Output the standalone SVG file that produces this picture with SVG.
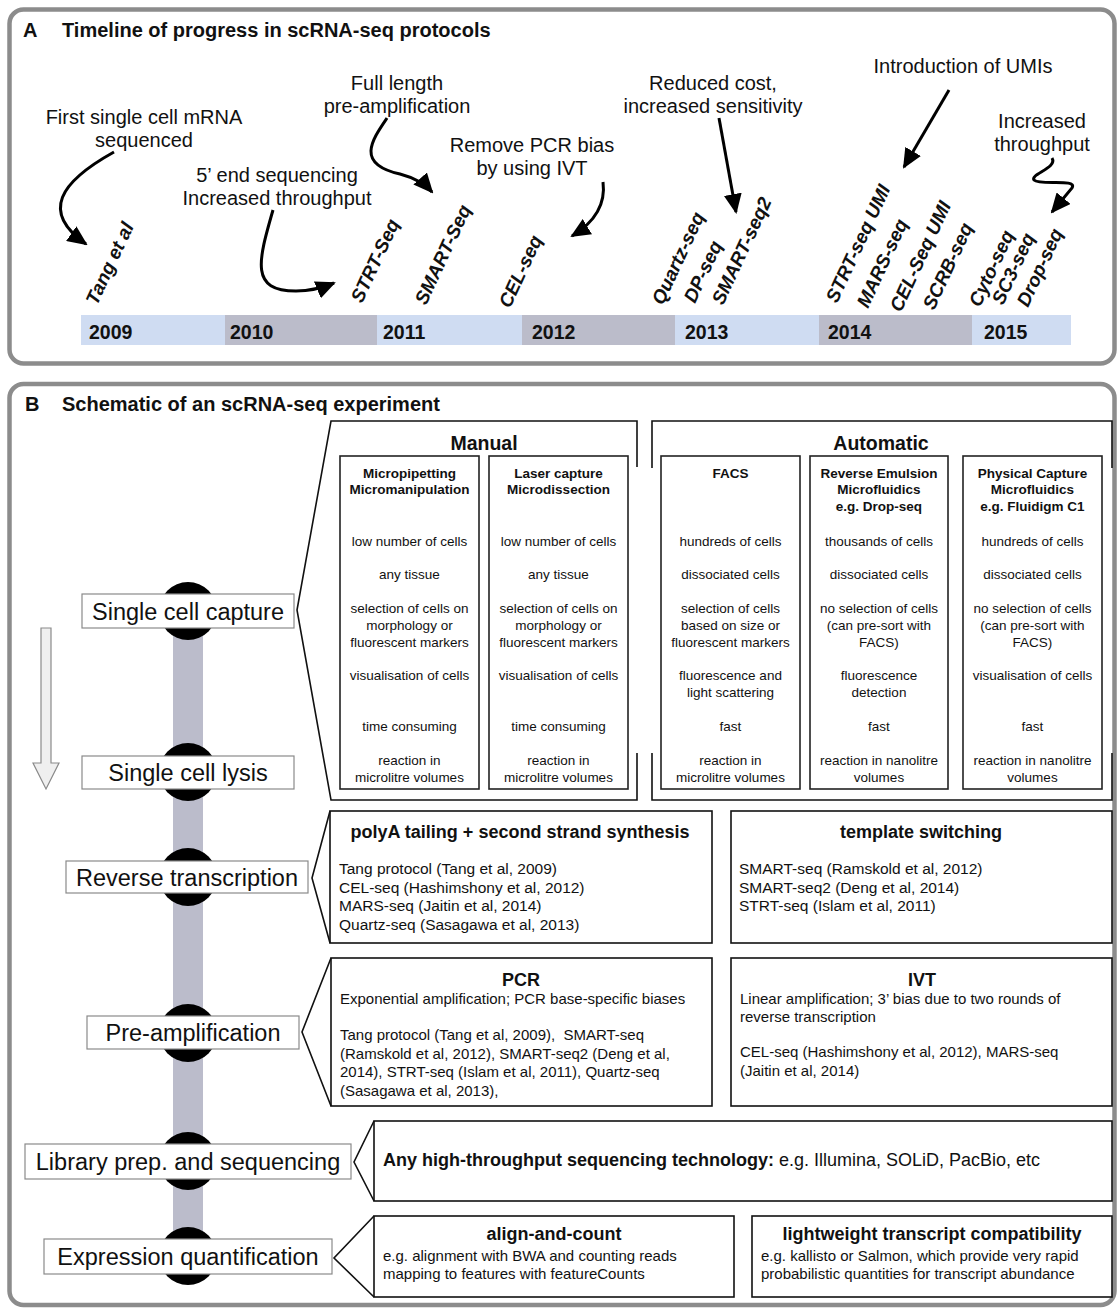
<svg xmlns="http://www.w3.org/2000/svg" width="1119" height="1310" viewBox="0 0 1119 1310">
  <style>
    text { font-family: "Liberation Sans", Arial, Helvetica, sans-serif; fill: #111; }
    .panel { fill: #fff; stroke: #8c8c8c; stroke-width: 4.5; }
    .ptitle { font-size: 20px; font-weight: bold; }
    .note { font-size: 20px; text-anchor: middle; }
    .proto { font-size: 19px; font-weight: bold; font-style: italic; }
    .year { font-size: 19.5px; font-weight: bold; }
    .arrow { fill: none; stroke: #000; stroke-width: 3; marker-end: url(#head); }
    .step rect { fill: #fff; stroke: #8a8a8a; stroke-width: 1.2; }
    .step text { font-size: 23.5px; text-anchor: middle; }
    .bracket { fill: none; stroke: #111; stroke-width: 1.6; }
    .col rect { fill: #fff; stroke: #222; stroke-width: 1.6; }
    .col text { font-size: 13.5px; text-anchor: middle; }
    .col .hd { font-weight: bold; }
    .group { font-size: 19.5px; font-weight: bold; text-anchor: middle; }
    .box rect { fill: #fff; stroke: #111; stroke-width: 1.6; }
    .box path { fill: none; stroke: #111; stroke-width: 1.6; }
    .bt { font-size: 18px; font-weight: bold; text-anchor: middle; }
    .rt { font-size: 15.5px; }
    .bd { font-size: 15px; white-space: pre; }
  </style>
  <defs>
    <marker id="head" markerUnits="userSpaceOnUse" viewBox="0 0 20 18" markerWidth="20" markerHeight="18" refX="18" refY="9" orient="auto">
      <path d="M0,0 L20,9 L0,18 z" fill="#000"/>
    </marker>
  </defs>

  <rect width="1119" height="1310" fill="#fff"/>

  <!-- Panel A: timeline -->
  <g id="panel-a">
    <rect class="panel" x="9.5" y="9.5" width="1105" height="354" rx="14"/>
    <text class="ptitle" x="23" y="37">A</text>
    <text class="ptitle" x="62" y="37">Timeline of progress in scRNA-seq protocols</text>

    <g id="timeline-bar">
      <rect x="81" y="315" width="144" height="30" fill="#cfdcf2"/>
      <rect x="225" y="315" width="152" height="30" fill="#bbbcca"/>
      <rect x="377" y="315" width="145" height="30" fill="#cfdcf2"/>
      <rect x="522" y="315" width="153" height="30" fill="#bbbcca"/>
      <rect x="675" y="315" width="144" height="30" fill="#cfdcf2"/>
      <rect x="819" y="315" width="153" height="30" fill="#bbbcca"/>
      <rect x="972" y="315" width="99" height="30" fill="#cfdcf2"/>
      <text class="year" x="89" y="339">2009</text>
      <text class="year" x="230" y="339">2010</text>
      <text class="year" x="383" y="339">2011</text>
      <text class="year" x="532" y="339">2012</text>
      <text class="year" x="685" y="339">2013</text>
      <text class="year" x="828" y="339">2014</text>
      <text class="year" x="984" y="339">2015</text>
    </g>

    <g id="protocols">
      <text class="proto" transform="translate(97,306) rotate(-65)">Tang et al</text>
      <text class="proto" transform="translate(362,304) rotate(-65)">STRT-Seq</text>
      <text class="proto" transform="translate(426,306) rotate(-65)">SMART-Seq</text>
      <text class="proto" transform="translate(510,309) rotate(-65)">CEL-seq</text>
      <text class="proto" transform="translate(663,306) rotate(-65)">Quartz-seq</text>
      <text class="proto" transform="translate(695,304) rotate(-65)">DP-seq</text>
      <text class="proto" transform="translate(723,306) rotate(-65)">SMART-seq2</text>
      <text class="proto" transform="translate(837,304) rotate(-65)">STRT-seq UMI</text>
      <text class="proto" transform="translate(868,309) rotate(-65)">MARS-seq</text>
      <text class="proto" transform="translate(901,313) rotate(-65)">CEL-Seq UMI</text>
      <text class="proto" transform="translate(934,311) rotate(-65)">SCRB-seq</text>
      <text class="proto" transform="translate(980,308) rotate(-65)">Cyto-seq</text>
      <text class="proto" transform="translate(1003,306) rotate(-65)">SC3-seq</text>
      <text class="proto" transform="translate(1028,308) rotate(-65)">Drop-seq</text>
    </g>

    <g id="milestones">
      <text class="note" x="144" y="124">First single cell mRNA</text>
      <text class="note" x="144" y="147">sequenced</text>
      <text class="note" x="277" y="182">5’ end sequencing</text>
      <text class="note" x="277" y="205">Increased throughput</text>
      <text class="note" x="397" y="90">Full length</text>
      <text class="note" x="397" y="113">pre-amplification</text>
      <text class="note" x="532" y="152">Remove PCR bias</text>
      <text class="note" x="532" y="175">by using IVT</text>
      <text class="note" x="713" y="90">Reduced cost,</text>
      <text class="note" x="713" y="113">increased sensitivity</text>
      <text class="note" x="963" y="73">Introduction of UMIs</text>
      <text class="note" x="1042" y="128">Increased</text>
      <text class="note" x="1042" y="151">throughput</text>
    </g>

    <g id="milestone-arrows">
      <path class="arrow" d="M114,152 C60,182 40,212 86,244"/>
      <path class="arrow" d="M273,210 C258,262 250,291 296,291 C310,291 322,288 334,283"/>
      <path class="arrow" d="M387,118 C372,140 355,164 400,174 C415,178 425,184 432,192"/>
      <path class="arrow" d="M603,182 C606,205 595,222 572,236"/>
      <path class="arrow" d="M719,118 L736,212"/>
      <path class="arrow" d="M949,90 L904,167"/>
      <path class="arrow" d="M1052,158 C1058,168 1030,174 1034,180 C1040,186 1078,178 1072,188 L1052,212"/>
    </g>
  </g>

  <!-- Panel B: experiment schematic -->
  <g id="panel-b">
    <rect class="panel" x="9.5" y="384" width="1105" height="921" rx="14"/>
    <text class="ptitle" x="25" y="411">B</text>
    <text class="ptitle" x="62" y="411">Schematic of an scRNA-seq experiment</text>
  </g>

  <!-- workflow direction arrow -->
  <path id="flow-arrow" d="M41,628 H51 V763 H59 L46,789 L33,763 H41 Z" fill="#efefef" stroke="#8a8a8a" stroke-width="1.2"/>

  <!-- connectors: spine joining the steps -->
  <g id="connectors">
    <rect x="173" y="611" width="30" height="645" fill="#bbbccb"/>
    <circle cx="188" cy="611" r="29" fill="#000"/>
    <circle cx="188" cy="772" r="29" fill="#000"/>
    <circle cx="188" cy="877" r="29" fill="#000"/>
    <circle cx="188" cy="1033" r="29" fill="#000"/>
    <circle cx="188" cy="1161" r="29" fill="#000"/>
    <circle cx="188" cy="1256" r="29" fill="#000"/>
  </g>

  <g id="step-capture" class="step">
    <rect x="82" y="594" width="212" height="34"/>
    <text x="188" y="620">Single cell capture</text>
  </g>
  <g id="step-lysis" class="step">
    <rect x="82" y="756" width="212" height="33"/>
    <text x="188" y="781">Single cell lysis</text>
  </g>
  <g id="step-rt" class="step">
    <rect x="66" y="861" width="242" height="32"/>
    <text x="187" y="886">Reverse transcription</text>
  </g>
  <g id="step-preamp" class="step">
    <rect x="87" y="1016" width="212" height="33"/>
    <text x="193" y="1041">Pre-amplification</text>
  </g>
  <g id="step-library" class="step">
    <rect x="25" y="1144" width="326" height="35"/>
    <text x="188" y="1170">Library prep. and sequencing</text>
  </g>
  <g id="step-quant" class="step">
    <rect x="44" y="1239" width="288" height="35"/>
    <text x="188" y="1265">Expression quantification</text>
  </g>

  <!-- capture methods -->
  <g id="capture-manual">
    <path class="bracket" d="M637,467 V421 H331 L297,610 L331,800 H637 V753"/>
    <text class="group" x="484" y="450">Manual</text>
  </g>
  <g id="capture-automatic">
    <path class="bracket" d="M652,468 V421 H1112 V468"/>
    <path class="bracket" d="M652,753 V800 H1112 V753"/>
    <text class="group" x="881" y="450">Automatic</text>
  </g>

  <g id="col-micropipetting" class="col">
    <rect x="340" y="456" width="139" height="333"/>
    <text class="hd" x="409.5" y="478">Micropipetting</text>
    <text class="hd" x="409.5" y="494">Micromanipulation</text>
    <text x="409.5" y="546">low number of cells</text>
    <text x="409.5" y="579">any tissue</text>
    <text x="409.5" y="613">selection of cells on</text>
    <text x="409.5" y="630">morphology or</text>
    <text x="409.5" y="647">fluorescent markers</text>
    <text x="409.5" y="680">visualisation of cells</text>
    <text x="409.5" y="731">time consuming</text>
    <text x="409.5" y="765">reaction in</text>
    <text x="409.5" y="782">microlitre volumes</text>
  </g>
  <g id="col-laser" class="col">
    <rect x="489" y="456" width="139" height="333"/>
    <text class="hd" x="558.5" y="478">Laser capture</text>
    <text class="hd" x="558.5" y="494">Microdissection</text>
    <text x="558.5" y="546">low number of cells</text>
    <text x="558.5" y="579">any tissue</text>
    <text x="558.5" y="613">selection of cells on</text>
    <text x="558.5" y="630">morphology or</text>
    <text x="558.5" y="647">fluorescent markers</text>
    <text x="558.5" y="680">visualisation of cells</text>
    <text x="558.5" y="731">time consuming</text>
    <text x="558.5" y="765">reaction in</text>
    <text x="558.5" y="782">microlitre volumes</text>
  </g>
  <g id="col-facs" class="col">
    <rect x="661" y="456" width="139" height="333"/>
    <text class="hd" x="730.5" y="478">FACS</text>
    <text x="730.5" y="546">hundreds of cells</text>
    <text x="730.5" y="579">dissociated cells</text>
    <text x="730.5" y="613">selection of cells</text>
    <text x="730.5" y="630">based on size or</text>
    <text x="730.5" y="647">fluorescent markers</text>
    <text x="730.5" y="680">fluorescence and</text>
    <text x="730.5" y="697">light scattering</text>
    <text x="730.5" y="731">fast</text>
    <text x="730.5" y="765">reaction in</text>
    <text x="730.5" y="782">microlitre volumes</text>
  </g>
  <g id="col-dropseq" class="col">
    <rect x="810" y="456" width="138" height="333"/>
    <text class="hd" x="879" y="478">Reverse Emulsion</text>
    <text class="hd" x="879" y="494">Microfluidics</text>
    <text class="hd" x="879" y="511">e.g. Drop-seq</text>
    <text x="879" y="546">thousands of cells</text>
    <text x="879" y="579">dissociated cells</text>
    <text x="879" y="613">no selection of cells</text>
    <text x="879" y="630">(can pre-sort with</text>
    <text x="879" y="647">FACS)</text>
    <text x="879" y="680">fluorescence</text>
    <text x="879" y="697">detection</text>
    <text x="879" y="731">fast</text>
    <text x="879" y="765">reaction in nanolitre</text>
    <text x="879" y="782">volumes</text>
  </g>
  <g id="col-fluidigm" class="col">
    <rect x="963" y="456" width="139" height="333"/>
    <text class="hd" x="1032.5" y="478">Physical Capture</text>
    <text class="hd" x="1032.5" y="494">Microfluidics</text>
    <text class="hd" x="1032.5" y="511">e.g. Fluidigm C1</text>
    <text x="1032.5" y="546">hundreds of cells</text>
    <text x="1032.5" y="579">dissociated cells</text>
    <text x="1032.5" y="613">no selection of cells</text>
    <text x="1032.5" y="630">(can pre-sort with</text>
    <text x="1032.5" y="647">FACS)</text>
    <text x="1032.5" y="680">visualisation of cells</text>
    <text x="1032.5" y="731">fast</text>
    <text x="1032.5" y="765">reaction in nanolitre</text>
    <text x="1032.5" y="782">volumes</text>
  </g>

  <!-- reverse transcription -->
  <g id="rt-polya" class="box">
    <rect x="330" y="811" width="382" height="132"/>
    <path d="M330,811 L312,878 L330,943"/>
    <text class="bt" x="520" y="838">polyA tailing + second strand synthesis</text>
    <text class="rt" x="339" y="874">Tang protocol (Tang et al, 2009)</text>
    <text class="rt" x="339" y="893">CEL-seq (Hashimshony et al, 2012)</text>
    <text class="rt" x="339" y="911">MARS-seq (Jaitin et al, 2014)</text>
    <text class="rt" x="339" y="930">Quartz-seq (Sasagawa et al, 2013)</text>
  </g>
  <g id="rt-template" class="box">
    <rect x="731" y="811" width="381" height="132"/>
    <text class="bt" x="921" y="838">template switching</text>
    <text class="rt" x="739" y="874">SMART-seq (Ramskold et al, 2012)</text>
    <text class="rt" x="739" y="893">SMART-seq2 (Deng et al, 2014)</text>
    <text class="rt" x="739" y="911">STRT-seq (Islam et al, 2011)</text>
  </g>

  <!-- pre-amplification -->
  <g id="amp-pcr" class="box">
    <rect x="331" y="958" width="381" height="148"/>
    <path d="M331,958 L302,1032 L331,1106"/>
    <text class="bt" x="521" y="986">PCR</text>
    <text class="bd" x="340" y="1004">Exponential amplification; PCR base-specific biases</text>
    <text class="bd" x="340" y="1040">Tang protocol (Tang et al, 2009),  SMART-seq</text>
    <text class="bd" x="340" y="1059">(Ramskold et al, 2012), SMART-seq2 (Deng et al,</text>
    <text class="bd" x="340" y="1077">2014), STRT-seq (Islam et al, 2011), Quartz-seq</text>
    <text class="bd" x="340" y="1096">(Sasagawa et al, 2013),</text>
  </g>
  <g id="amp-ivt" class="box">
    <rect x="731" y="958" width="381" height="148"/>
    <text class="bt" x="922" y="986">IVT</text>
    <text class="bd" x="740" y="1004">Linear amplification; 3’ bias due to two rounds of</text>
    <text class="bd" x="740" y="1022">reverse transcription</text>
    <text class="bd" x="740" y="1057">CEL-seq (Hashimshony et al, 2012), MARS-seq</text>
    <text class="bd" x="740" y="1076">(Jaitin et al, 2014)</text>
  </g>

  <!-- library prep -->
  <g id="library" class="box">
    <rect x="374" y="1121" width="738" height="80"/>
    <path d="M374,1121 L354,1162 L374,1201"/>
    <text x="383" y="1166" font-size="18px"><tspan font-weight="bold">Any high-throughput sequencing technology:</tspan> e.g. Illumina, SOLiD, PacBio, etc</text>
  </g>

  <!-- quantification -->
  <g id="quant-align" class="box">
    <rect x="374" y="1216" width="360" height="81"/>
    <path d="M374,1216 L334,1258 L374,1297"/>
    <text class="bt" x="554" y="1240">align-and-count</text>
    <text class="bd" x="383" y="1261">e.g. alignment with BWA and counting reads</text>
    <text class="bd" x="383" y="1279">mapping to features with featureCounts</text>
  </g>
  <g id="quant-lightweight" class="box">
    <rect x="752" y="1216" width="360" height="81"/>
    <text class="bt" x="932" y="1240">lightweight transcript compatibility</text>
    <text class="bd" x="761" y="1261">e.g. kallisto or Salmon, which provide very rapid</text>
    <text class="bd" x="761" y="1279">probabilistic quantities for transcript abundance</text>
  </g>
</svg>
